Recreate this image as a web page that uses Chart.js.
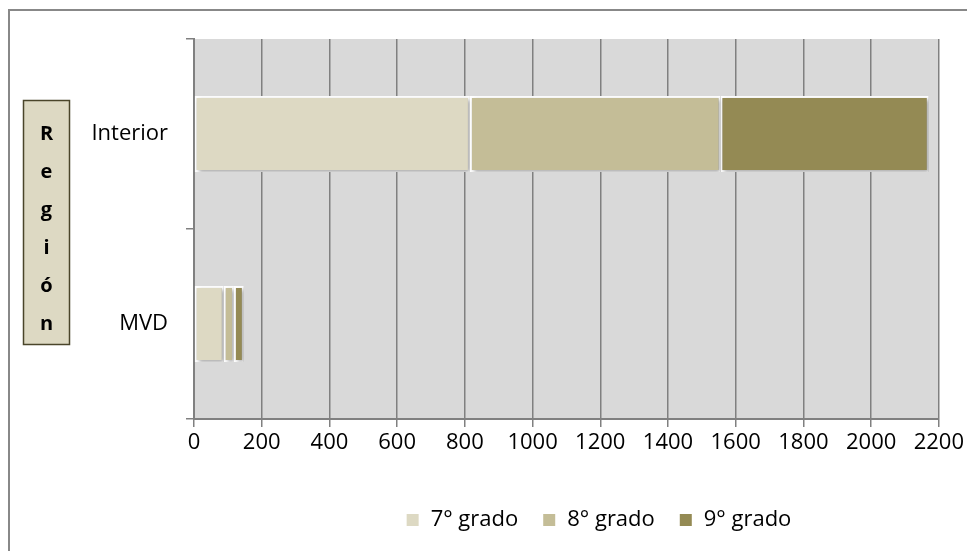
<!DOCTYPE html>
<html>
<head>
<meta charset="utf-8">
<script src="https://cdn.jsdelivr.net/npm/chart.js@4/dist/chart.umd.min.js"></script>
<style>
  html, body { margin: 0; padding: 0; background: #fff; }
  #wrap { width: 967px; height: 551px; position: relative; }
</style>
</head>
<body>
<div id="wrap"><canvas id="regiones"></canvas></div>
<script>
// datos
var regiones = ['Interior', 'MVD'];
var grado7 = [815, 88];
var grado8 = [740, 30];
var grado9 = [615, 29];
var xTicks = [0, 200, 400, 600, 800, 1000, 1200, 1400, 1600, 1800, 2000, 2200];
var axisTitle = 'Región';

var fuente = "'Open Sans', 'Liberation Sans', sans-serif";

// marco exterior, fondo del area y titulo vertical del eje
var marco = {
  id: 'marco',
  afterLayout: function(chart) {
    // la leyenda de la original esta corrida a la derecha
    var lg = chart.legend;
    lg.left += 128;
    lg.right += 128;
  },
  beforeDraw: function(chart) {
    var c = chart.ctx;
    var a = chart.chartArea;
    c.save();
    c.strokeStyle = '#888';
    c.lineWidth = 2;
    c.strokeRect(9, 10, 980, 560);
    c.fillStyle = '#d9d9d9';
    c.fillRect(a.left, a.top, a.right - a.left, a.bottom - a.top);
    c.restore();
  },
  afterDraw: function(chart) {
    var c = chart.ctx;
    c.save();
    c.fillStyle = '#ddd9c3';
    c.fillRect(23, 100, 47, 245);
    c.strokeStyle = '#4a452a';
    c.lineWidth = 1.5;
    c.strokeRect(23.5, 100.5, 46, 244);
    c.fillStyle = '#000';
    c.font = 'bold 20px ' + fuente;
    c.textAlign = 'center';
    c.textBaseline = 'middle';
    var letras = axisTitle.split('');
    for (var i = 0; i < letras.length; i++) {
      c.fillText(letras[i], 46.5, 134 + i * 38);
    }
    c.restore();
  }
};

// sombra de las barras
var sombra = {
  id: 'sombra',
  beforeDatasetsDraw: function(chart) {
    var c = chart.ctx;
    c.save();
    c.shadowColor = 'rgba(0,0,0,0.35)';
    c.shadowBlur = 4;
    c.shadowOffsetX = 2;
    c.shadowOffsetY = 2;
  },
  afterDatasetsDraw: function(chart) {
    chart.ctx.restore();
  }
};

var ctx = document.getElementById('regiones').getContext('2d');
var chart = new Chart(ctx, {
  type: 'bar',
  data: {
    labels: regiones,
    datasets: [
      { label: '7° grado', data: grado7, backgroundColor: '#ddd9c3' },
      { label: '8° grado', data: grado8, backgroundColor: '#c4bd97' },
      { label: '9° grado', data: grado9, backgroundColor: '#948a54' }
    ]
  },
  options: {
    indexAxis: 'y',
    responsive: true,
    maintainAspectRatio: false,
    animation: false,
    layout: { padding: { top: 39, left: 0, right: 26, bottom: 10 } },
    datasets: {
      bar: {
        borderColor: '#ffffff',
        borderWidth: 2,
        borderSkipped: false,
        barPercentage: 0.4,
        categoryPercentage: 1
      }
    },
    scales: {
      x: {
        stacked: true,
        min: 0,
        max: 2200,
        afterBuildTicks: function(axis) {
          axis.ticks = xTicks.map(function(v) { return { value: v }; });
        },
        grid: { color: '#808080', lineWidth: 1.5, tickLength: 8 },
        border: { color: '#808080', width: 2 },
        ticks: {
          color: '#000',
          font: { family: fuente, size: 22 },
          padding: 3,
          maxRotation: 0,
          callback: function(v) { return String(v); }
        },
        afterFit: function(axis) { axis.height = 66; }
      },
      y: {
        stacked: true,
        grid: { drawOnChartArea: false, color: '#808080', lineWidth: 1.5, tickLength: 8, offset: true },
        border: { color: '#808080', width: 2 },
        ticks: { color: '#000', font: { family: fuente, size: 22 }, padding: 18 },
        afterFit: function(axis) { axis.width = 194; }
      }
    },
    plugins: {
      legend: {
        position: 'bottom',
        labels: {
          color: '#000',
          font: { family: fuente, size: 22 },
          boxWidth: 14,
          boxHeight: 14,
          padding: 24
        }
      },
      tooltip: { enabled: false }
    }
  },
  plugins: [marco, sombra]
});
</script>
</body>
</html>
